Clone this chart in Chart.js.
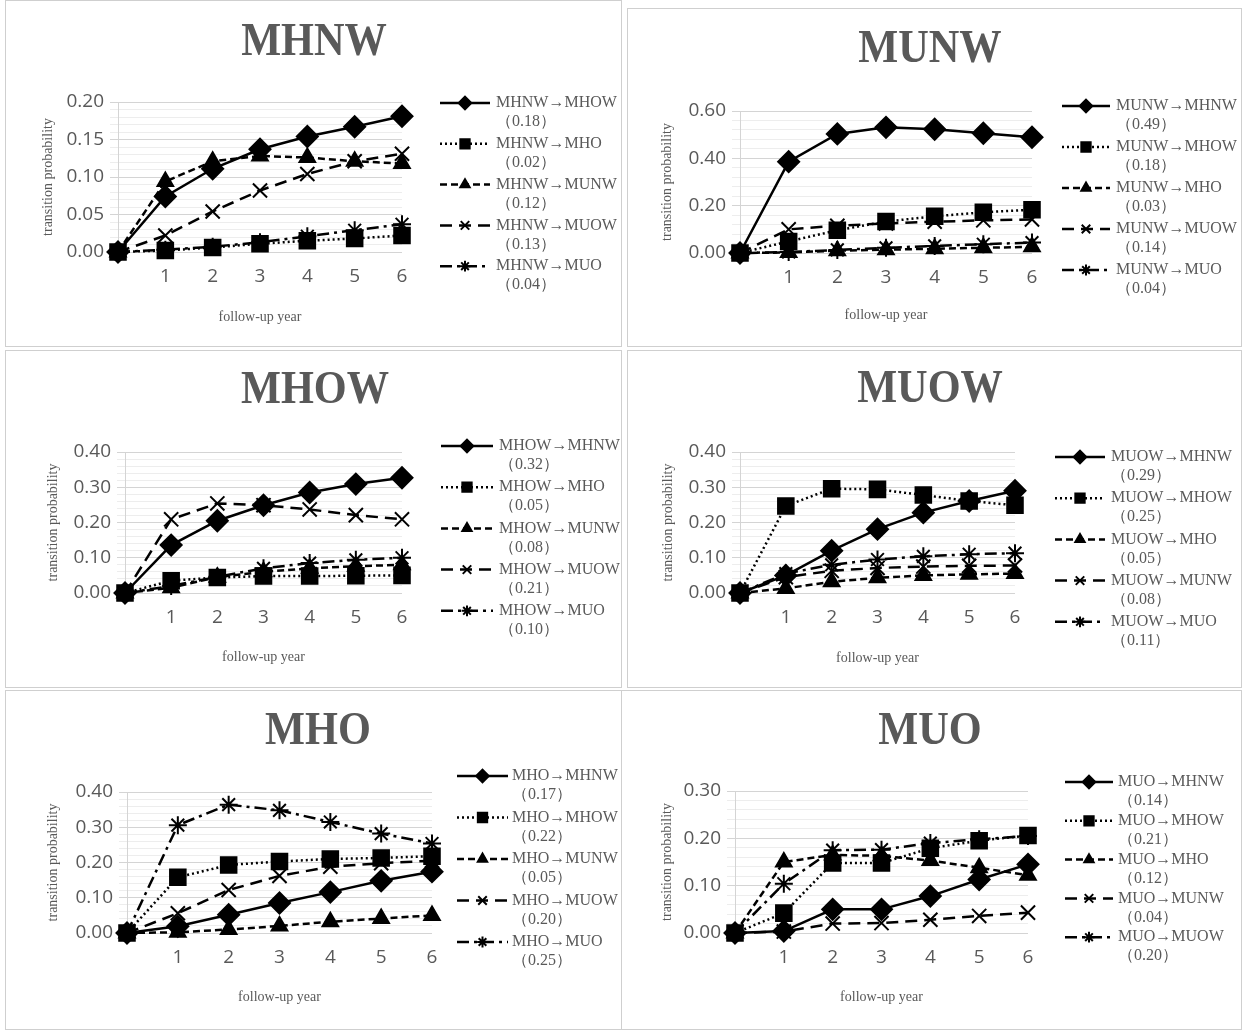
<!DOCTYPE html>
<html lang="en">
<head>
  <meta charset="UTF-8" />
  <title>Transition probabilities</title>
  <script src="https://cdn.jsdelivr.net/npm/chart.js"></script>
  <style>
    html, body { margin: 0; padding: 0; background: #fff; }
    body { width: 1248px; height: 1033px; position: relative; overflow: hidden; }
    .box { position: absolute; box-sizing: border-box; border: 1.5px solid #cfcfcf; }
    canvas { position: absolute; }
  </style>
</head>
<body>
  <script>
    // follow-up years (0 = baseline)
    const years = [0, 1, 2, 3, 4, 5, 6];

    // MHNW panel
    const mhnwNames = ['MHNW→MHOW', 'MHNW→MHO', 'MHNW→MUNW', 'MHNW→MUOW', 'MHNW→MUO'];
    const mhnwFinal = ['0.18', '0.02', '0.12', '0.13', '0.04'];
    const mhnwToMhow = [0, 0.074, 0.111, 0.137, 0.154, 0.167, 0.181];
    const mhnwToMho  = [0, 0.002, 0.006, 0.011, 0.015, 0.018, 0.022];
    const mhnwToMunw = [0, 0.094, 0.121, 0.128, 0.126, 0.121, 0.118];
    const mhnwToMuow = [0, 0.022, 0.054, 0.082, 0.104, 0.121, 0.131];
    const mhnwToMuo  = [0, 0.003, 0.007, 0.013, 0.021, 0.029, 0.037];

    // MUNW panel
    const munwNames = ['MUNW→MHNW', 'MUNW→MHOW', 'MUNW→MHO', 'MUNW→MUOW', 'MUNW→MUO'];
    const munwFinal = ['0.49', '0.18', '0.03', '0.14', '0.04'];
    const munwToMhnw = [0, 0.386, 0.503, 0.531, 0.523, 0.506, 0.489];
    const munwToMhow = [0, 0.049, 0.096, 0.133, 0.155, 0.172, 0.183];
    const munwToMho  = [0, 0.002, 0.010, 0.014, 0.018, 0.022, 0.026];
    const munwToMuow = [0, 0.100, 0.115, 0.125, 0.132, 0.138, 0.142];
    const munwToMuo  = [0, 0.004, 0.013, 0.022, 0.030, 0.037, 0.044];

    // MHOW panel
    const mhowNames = ['MHOW→MHNW', 'MHOW→MHO', 'MHOW→MUNW', 'MHOW→MUOW', 'MHOW→MUO'];
    const mhowFinal = ['0.32', '0.05', '0.08', '0.21', '0.10'];
    const mhowToMhnw = [0, 0.136, 0.205, 0.249, 0.285, 0.309, 0.327];
    const mhowToMho  = [0, 0.035, 0.044, 0.048, 0.048, 0.049, 0.050];
    const mhowToMunw = [0, 0.015, 0.045, 0.060, 0.070, 0.076, 0.080];
    const mhowToMuow = [0, 0.209, 0.254, 0.249, 0.237, 0.221, 0.209];
    const mhowToMuo  = [0, 0.020, 0.046, 0.070, 0.085, 0.094, 0.100];

    // MUOW panel
    const muowNames = ['MUOW→MHNW', 'MUOW→MHOW', 'MUOW→MHO', 'MUOW→MUNW', 'MUOW→MUO'];
    const muowFinal = ['0.29', '0.25', '0.05', '0.08', '0.11'];
    const muowToMhnw = [0, 0.050, 0.120, 0.181, 0.228, 0.261, 0.290];
    const muowToMhow = [0, 0.247, 0.296, 0.294, 0.278, 0.261, 0.249];
    const muowToMho  = [0, 0.013, 0.032, 0.043, 0.050, 0.053, 0.055];
    const muowToMunw = [0, 0.045, 0.063, 0.071, 0.075, 0.077, 0.078];
    const muowToMuo  = [0, 0.055, 0.080, 0.095, 0.104, 0.110, 0.113];

    // MHO panel
    const mhoNames = ['MHO→MHNW', 'MHO→MHOW', 'MHO→MUNW', 'MHO→MUOW', 'MHO→MUO'];
    const mhoFinal = ['0.17', '0.22', '0.05', '0.20', '0.25'];
    const mhoToMhnw = [0, 0.019, 0.052, 0.085, 0.116, 0.148, 0.174];
    const mhoToMhow = [0, 0.158, 0.193, 0.203, 0.210, 0.213, 0.218];
    const mhoToMunw = [0, 0.002, 0.010, 0.020, 0.032, 0.041, 0.050];
    const mhoToMuow = [0, 0.056, 0.122, 0.162, 0.188, 0.198, 0.205];
    const mhoToMuo  = [0, 0.306, 0.364, 0.348, 0.315, 0.282, 0.254];

    // MUO panel
    const muoNames = ['MUO→MHNW', 'MUO→MHOW', 'MUO→MHO', 'MUO→MUNW', 'MUO→MUOW'];
    const muoFinal = ['0.14', '0.21', '0.12', '0.04', '0.20'];
    const muoToMhnw = [0, 0.004, 0.050, 0.050, 0.078, 0.113, 0.145];
    const muoToMhow = [0, 0.042, 0.148, 0.148, 0.179, 0.195, 0.206];
    const muoToMho  = [0, 0.150, 0.165, 0.163, 0.153, 0.138, 0.122];
    const muoToMunw = [0, 0.003, 0.020, 0.021, 0.028, 0.036, 0.043];
    const muoToMuow = [0, 0.104, 0.175, 0.176, 0.190, 0.198, 0.205];

    // y axis tick values: top of axis and major step
    const yMax   = [0.20, 0.60, 0.40, 0.40, 0.40, 0.30];
    const yMajor = [0.05, 0.20, 0.10, 0.10, 0.10, 0.10];

    const panelData = [
      { title: 'MHNW', names: mhnwNames, finals: mhnwFinal, series: [mhnwToMhow, mhnwToMho, mhnwToMunw, mhnwToMuow, mhnwToMuo] },
      { title: 'MUNW', names: munwNames, finals: munwFinal, series: [munwToMhnw, munwToMhow, munwToMho, munwToMuow, munwToMuo] },
      { title: 'MHOW', names: mhowNames, finals: mhowFinal, series: [mhowToMhnw, mhowToMho, mhowToMunw, mhowToMuow, mhowToMuo] },
      { title: 'MUOW', names: muowNames, finals: muowFinal, series: [muowToMhnw, muowToMhow, muowToMho, muowToMunw, muowToMuo] },
      { title: 'MHO',  names: mhoNames,  finals: mhoFinal,  series: [mhoToMhnw, mhoToMhow, mhoToMunw, mhoToMuow, mhoToMuo] },
      { title: 'MUO',  names: muoNames,  finals: muoFinal,  series: [muoToMhnw, muoToMhow, muoToMho, muoToMunw, muoToMuow] }
    ];

    // box + plot geometry for each panel (page px)
    const layouts = [
      { L: 5,   T: 0,   W: 617, H: 347, yW: 113, top: 102, right: 220, xH: 95, yTitlePad: 34.6, xTitlePad: 21.6, tx: 309, ty: 43, lx0: 435, lx1: 485, ltx: 491, ly: 103, ldy: 40.8 },
      { L: 627, T: 8,   W: 615, H: 339, yW: 113, top: 103, right: 210, xH: 94, yTitlePad: 31.6, xTitlePad: 23.6, tx: 303, ty: 42, lx0: 435, lx1: 483, ltx: 489, ly: 98,  ldy: 41 },
      { L: 5,   T: 350, W: 617, H: 338, yW: 120, top: 102, right: 220, xH: 95, yTitlePad: 39.6, xTitlePad: 22.6, tx: 310, ty: 41, lx0: 436, lx1: 488, ltx: 494, ly: 96,  ldy: 41.2 },
      { L: 627, T: 350, W: 615, H: 338, yW: 113, top: 102, right: 227, xH: 95, yTitlePad: 32.6, xTitlePad: 21.6, tx: 303, ty: 40, lx0: 428, lx1: 478, ltx: 484, ly: 107, ldy: 41.2 },
      { L: 5,   T: 690, W: 617, H: 340, yW: 122, top: 102, right: 190, xH: 97, yTitlePad: 39.6, xTitlePad: 24.6, tx: 313, ty: 42, lx0: 452, lx1: 503, ltx: 507, ly: 86,  ldy: 41.5 },
      { L: 621, T: 690, W: 621, H: 340, yW: 114, top: 101, right: 214, xH: 97, yTitlePad: 37.6, xTitlePad: 24.6, tx: 309, ty: 42, lx0: 444, lx1: 492, ltx: 497, ly: 92,  ldy: 38.8 }
    ];

    // line / marker style by legend position
    const styles = [
      { dash: [],            point: 'rectRot',  r: 10.5 },
      { dash: [2, 3],        point: 'rect',     r: 11 },
      { dash: [7, 4],        point: 'triangle', r: 9 },
      { dash: [12, 7],       point: 'crossRot', r: 10 },
      { dash: [12, 5, 3, 5], point: 'star',     r: 9 }
    ];

    const GRAY = '#595959';
    Chart.defaults.font.family = "'Open Sans', sans-serif";

    function drawMarker(ctx, style, r, x, y) {
      if (Chart.helpers && Chart.helpers.drawPoint) {
        Chart.helpers.drawPoint(ctx, { pointStyle: style, radius: r, rotation: 0, borderWidth: 2 }, x, y);
      }
    }

    // panel title + legend drawn on the canvas
    const panelDecor = {
      id: 'panelDecor',
      afterDraw(chart, args, opts) {
        const ctx = chart.ctx;
        ctx.save();
        ctx.fillStyle = GRAY;
        ctx.font = "bold 46px 'Liberation Serif', serif";
        ctx.textAlign = 'center';
        ctx.textBaseline = 'middle';
        ctx.translate(opts.tx, opts.ty);
        ctx.scale(0.92, 1);
        ctx.fillText(opts.title, 0, 0);
        ctx.restore();

        chart.data.datasets.forEach((ds, i) => {
          const y = opts.ly + i * opts.ldy;
          ctx.save();
          ctx.strokeStyle = '#000';
          ctx.lineWidth = 2.5;
          ctx.setLineDash(ds.borderDash);
          ctx.beginPath();
          ctx.moveTo(opts.lx0, y);
          ctx.lineTo(opts.lx1, y);
          ctx.stroke();
          ctx.setLineDash([]);
          ctx.fillStyle = '#000';
          ctx.lineWidth = 2;
          drawMarker(ctx, ds.pointStyle, ds.pointRadius * 0.6, (opts.lx0 + opts.lx1) / 2, y);
          ctx.fillStyle = GRAY;
          ctx.font = "16px 'Liberation Serif', serif";
          ctx.textAlign = 'left';
          ctx.textBaseline = 'middle';
          ctx.fillText(ds.label, opts.ltx, y);
          ctx.fillText('（' + opts.finals[i] + '）', opts.ltx, y + 19);
          ctx.restore();
        });
      }
    };

    panelData.forEach((p, k) => {
      const g = layouts[k];
      const box = document.createElement('div');
      box.className = 'box';
      box.style.left = g.L + 'px';
      box.style.top = g.T + 'px';
      box.style.width = g.W + 'px';
      box.style.height = g.H + 'px';
      document.body.appendChild(box);

      const canvas = document.createElement('canvas');
      canvas.width = g.W;
      canvas.height = g.H;
      canvas.style.left = g.L + 'px';
      canvas.style.top = g.T + 'px';
      document.body.appendChild(canvas);

      const minor = yMajor[k] / 5;
      const isMajor = v => Math.round(v / minor) % 5 === 0;

      new Chart(canvas, {
        type: 'line',
        data: {
          labels: years,
          datasets: p.series.map((vals, i) => ({
            label: p.names[i],
            data: vals,
            order: p.series.length - 1 - i, // later series on top, as in the original
            borderColor: '#000',
            backgroundColor: '#000',
            borderWidth: 2.5,
            borderDash: styles[i].dash,
            pointStyle: styles[i].point,
            pointRadius: styles[i].r,
            pointBackgroundColor: '#000',
            pointBorderColor: '#000',
            pointBorderWidth: 2,
            tension: 0,
            clip: false
          }))
        },
        options: {
          responsive: false,
          animation: false,
          layout: { padding: { left: 0, top: g.top, right: g.right, bottom: 0 } },
          plugins: {
            legend: { display: false },
            title: { display: false },
            tooltip: { enabled: false },
            panelDecor: Object.assign({ title: p.title, finals: p.finals }, g)
          },
          scales: {
            x: {
              type: 'linear',
              min: 0,
              max: 6,
              afterFit: s => { s.height = g.xH; },
              grid: { display: false, drawTicks: false },
              border: { display: false },
              ticks: {
                stepSize: 1,
                padding: 13,
                color: GRAY,
                font: { size: 19 },
                callback: v => (v === 0 ? '' : v)
              },
              title: {
                display: true,
                text: 'follow-up year',
                color: GRAY,
                font: { family: "'Liberation Serif', serif", size: 14 },
                padding: { top: 0, bottom: g.xTitlePad }
              }
            },
            y: {
              min: 0,
              max: yMax[k],
              afterFit: s => { s.width = g.yW; },
              grid: {
                drawTicks: true,
                tickLength: 8,
                color: c => (c.tick && isMajor(c.tick.value) ? '#d4d4d4' : '#ededed')
              },
              border: { display: true, color: '#d4d4d4', width: 1 },
              ticks: {
                stepSize: minor,
                autoSkip: false,
                padding: 6,
                color: GRAY,
                font: { size: 19 },
                callback: v => (isMajor(v) ? v.toFixed(2) : '')
              },
              title: {
                display: true,
                text: 'transition probability',
                color: GRAY,
                font: { family: "'Liberation Serif', serif", size: 14 },
                padding: { top: g.yTitlePad, bottom: 0 }
              }
            }
          }
        },
        plugins: [panelDecor]
      });
    });
  </script>
</body>
</html>
